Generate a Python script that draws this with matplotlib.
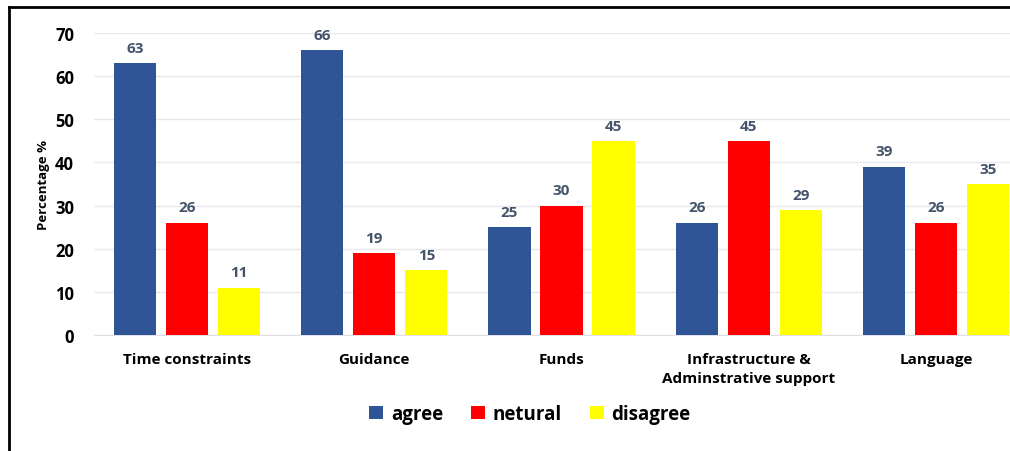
import matplotlib.pyplot as plt
import numpy as np
from matplotlib.lines import Line2D

plt.rcParams['font.family'] = ['Open Sans', 'DejaVu Sans']
plt.rcParams['font.weight'] = 'bold'

categories = ["Time constraints", "Guidance", "Funds",
              "Infrastructure &\nAdminstrative support", "Language"]
agree = [63, 66, 25, 26, 39]
netural = [26, 19, 30, 45, 26]
disagree = [11, 15, 45, 29, 35]

series = [("agree", agree, "#2F5597"),
          ("netural", netural, "#FF0000"),
          ("disagree", disagree, "#FFFF00")]

fig = plt.figure(figsize=(10.1, 4.52), dpi=100)
ax = fig.add_axes([93.5 / 1010, 116 / 452, 936 / 1010, 302 / 452])

x = np.arange(len(categories))
width = 0.225
pitch = 0.278
for i, (name, vals, color) in enumerate(series):
    pos = x + (i - 1) * pitch
    bars = ax.bar(pos, vals, width, color=color, label=name, zorder=3)
    for b, v in zip(bars, vals):
        ax.annotate(str(v), (b.get_x() + b.get_width() / 2, v),
                    xytext=(0, 6), textcoords="offset points",
                    ha="center", va="bottom", fontsize=11,
                    fontweight="bold", color="#44546A")

ax.set_xlim(-0.5, len(categories) - 0.5)
ax.set_ylim(0, 70)
ax.set_yticks(range(0, 71, 10))
ax.set_xticks(x)
ax.set_xticklabels(categories, fontsize=11, fontweight="bold",
                   linespacing=1.45)
ax.tick_params(axis="y", labelsize=12, length=0, pad=14)
ax.tick_params(axis="x", length=0, pad=12)
ax.grid(axis="y", color="#E8E8EE", linewidth=1, zorder=0)
for s in ["top", "right", "left"]:
    ax.spines[s].set_visible(False)
ax.spines["bottom"].set_color("#E0E0E6")
ax.set_ylabel("Percentage %", fontsize=9.5, fontweight="bold", labelpad=4)

fig.legend(loc="center", bbox_to_anchor=(530 / 1010, 1 - 415 / 452),
           ncol=3, frameon=False, handlelength=0.75,
           handleheight=0.75, handletextpad=0.4, columnspacing=1.5,
           prop={"weight": "bold", "size": 13.5})

# frame lines from the cropped screenshot
fig.add_artist(Line2D([8.5 / 1010, 1], [1 - 7.5 / 452, 1 - 7.5 / 452],
                      color="black", linewidth=2, transform=fig.transFigure))
fig.add_artist(Line2D([8.5 / 1010, 8.5 / 1010], [0, 1 - 7.5 / 452],
                      color="black", linewidth=2, transform=fig.transFigure))

fig.savefig("out.png", dpi=100)
